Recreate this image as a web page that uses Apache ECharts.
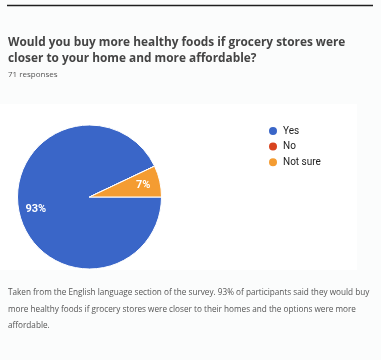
<!DOCTYPE html>
<html><head><meta charset="utf-8">
<script src="https://cdn.jsdelivr.net/npm/echarts@6/dist/echarts.min.js"></script>
<style>html,body{margin:0;padding:0;background:#fbfcfc;}#c{width:381px;height:360px;}</style>
</head><body><div id="c"></div>
<script>
const categories = ['Yes', 'No', 'Not sure'];
const values = [66, 0, 5];
const percentLabels = ['93%', '', '7%'];
const colors = ['#3a66c8', '#d8441f', '#f49c32'];
const titleText = 'Would you buy more healthy foods if grocery stores were\ncloser to your home and more affordable?';
const subText = '71 responses';
const caption = 'Taken from the English language section of the survey. 93% of participants said they would buy\nmore healthy foods if grocery stores were closer to their homes and the options were more\naffordable.';

const chart = echarts.init(document.getElementById('c'));
const data = categories.map((c, i) => ({ name: c, value: values[i], itemStyle: { color: colors[i] } }));
chart.setOption({
  backgroundColor: '#fbfcfc',
  animation: false,
  legend: {
    orient: 'vertical', left: 267, top: 125, padding: 0, itemWidth: 10, itemHeight: 10, itemGap: 3.6,
    icon: 'circle', data: categories,
    textStyle: { color: '#222', fontSize: 10, lineHeight: 10, fontFamily: 'Roboto, Arial, sans-serif' }
  },
  graphic: [
    { type: 'rect', shape: { x: 0, y: 104, width: 357, height: 166 }, style: { fill: '#ffffff' }, z: -10 },
    { type: 'line', shape: { x1: 7, y1: 5.5, x2: 373, y2: 5.5 }, style: { stroke: '#1f1f1f', lineWidth: 1.5 } },
    { type: 'text', left: 8, top: 34, style: { text: titleText, fill: '#444', font: 'bold 11.85px "Open Sans", sans-serif', lineHeight: 16.5 } },
    { type: 'text', left: 8, top: 71, style: { text: subText, fill: '#555', font: '8px "Open Sans", sans-serif' } },
    { type: 'text', left: 8, top: 285, style: { text: caption, fill: '#555', font: '8.2px "Open Sans", sans-serif', lineHeight: 16.3 } }
  ],
  series: [
    {
      type: 'pie', center: [89.5, 197], radius: [0, 72], startAngle: 0, clockwise: true,
      minAngle: 0, stillShowZeroSum: false, silent: true,
      itemStyle: { borderColor: '#ffffff', borderWidth: 1 },
      label: { show: false }, labelLine: { show: false },
      data: data
    },
    {
      type: 'pie', center: [89.5, 197], radius: [0, 104], startAngle: 0, clockwise: true,
      silent: true, legendHoverLink: false,
      itemStyle: { color: 'rgba(0,0,0,0)' },
      label: {
        show: true, position: 'inside', color: '#fff', fontSize: 11, fontWeight: 'bold',
        fontFamily: 'Roboto, Arial, sans-serif',
        formatter: p => percentLabels[p.dataIndex]
      },
      labelLine: { show: false },
      data: categories.map((c, i) => ({ name: c + ' ', value: values[i] }))
    }
  ]
});
</script></body></html>
